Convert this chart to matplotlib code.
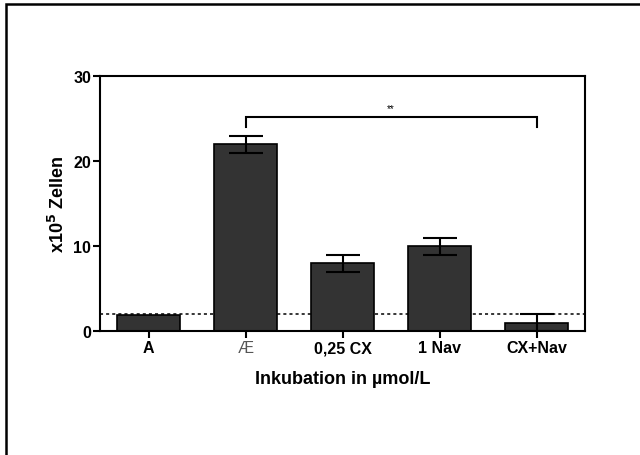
import numpy as np
import matplotlib.pyplot as plt
from matplotlib.patches import Rectangle

plt.rcParams['font.family'] = ['Liberation Sans', 'DejaVu Sans']

# Zellzahlen nach Inkubation
gruppen = ['A', 'Æ', '0,25 CX', '1 Nav', 'CX+Nav']
mittelwerte = [1.9, 22.0, 8.0, 10.0, 1.0]
fehler = [0.0, 1.0, 1.0, 1.0, 1.0]
basislinie = 2.0
yticks = [0, 10, 20, 30]

fig = plt.figure(figsize=(6.4, 4.56), dpi=100)
ax = fig.add_axes([100 / 640, 1 - 332 / 456, 485 / 640, 255 / 456])

x = np.arange(len(gruppen))
ax.bar(x, mittelwerte, width=0.65, color='#333333', edgecolor='black',
       linewidth=1.2, zorder=2)
mit_fehler = [i for i, e in enumerate(fehler) if e > 0]
ax.errorbar(x[mit_fehler], [mittelwerte[i] for i in mit_fehler],
            yerr=[fehler[i] for i in mit_fehler], fmt='none',
            ecolor='black', elinewidth=1.5, capsize=12, capthick=1.5, zorder=3)

# gestrichelte Basislinie
ax.axhline(basislinie, color='black', linestyle=(0, (2, 2)), linewidth=1.1, zorder=1)

# Signifikanzklammer
y_kl, y_fuss = 25.2, 24.0
ax.plot([1, 1, 4, 4], [y_fuss, y_kl, y_kl, y_fuss], color='black', lw=1.5,
        solid_joinstyle='miter', clip_on=False)
ax.text(2.5, y_kl + 0.4, '**', ha='center', va='bottom', fontsize=7)

ax.set_xlim(-0.5, 4.5)
ax.set_ylim(0, 30)
ax.set_yticks(yticks)
ax.set_xticks(x)
ax.set_xticklabels(gruppen, fontsize=11.5, fontweight='bold')
for lbl in ax.get_xticklabels():
    if lbl.get_text() == 'Æ':
        lbl.set_fontweight('normal')
        lbl.set_color('#555555')
for lbl in ax.get_yticklabels():
    lbl.set_fontsize(11.5)
    lbl.set_fontweight('bold')
ax.tick_params(direction='out', length=5, width=1.5, pad=1.5)
for s in ax.spines.values():
    s.set_linewidth(1.5)

ax.set_ylabel(r'x10$^\mathbf{5}$ Zellen', fontsize=13, fontweight='bold', labelpad=4)
ax.set_xlabel('Inkubation in µmol/L', fontsize=13, fontweight='bold', labelpad=11)

# Rahmen um die Abbildung
fig.patches.append(Rectangle((6 / 640, -0.5), 2, 0.5 + 1 - 5 / 456,
                             transform=fig.transFigure, fill=False,
                             edgecolor='black', linewidth=1.8))

fig.savefig('out.png', dpi=100)
